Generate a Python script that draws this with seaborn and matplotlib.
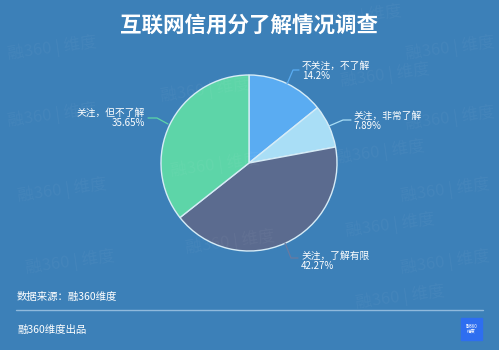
import matplotlib
matplotlib.use("Agg")
import matplotlib.pyplot as plt
import seaborn as sns

# ---- data ----
title = "互联网信用分了解情况调查"
categories = ["不关注，不了解", "关注，非常了解", "关注，了解有限", "关注，但不了解"]
values = [14.2, 7.89, 42.27, 35.65]
value_labels = ["14.2%", "7.89%", "42.27%", "35.65%"]
source_text = "数据来源：融360维度"
footer_text = "融360维度出品"

BG = "#3c80b8"
colors = ["#5aacf2", "#a9def6", "#5b6b8f", "#5dd5a8"]

sns.set_theme(style="white")
plt.rcParams['font.family'] = ['Noto Sans CJK SC', 'DejaVu Sans']

W, H = 499, 350
fig = plt.figure(figsize=(W / 100, H / 100), dpi=100, facecolor=BG)

# pixel helpers
cx, cy, R = 249, 163, 88
half = 110
ax = fig.add_axes([(cx - half) / W, (H - cy - half) / H, 2 * half / W, 2 * half / H])
ax.set_facecolor(BG)
ax.set_xlim(-half / R, half / R)
ax.set_ylim(-half / R, half / R)
ax.set_aspect("equal")
ax.axis("off")

wedges, _ = ax.pie(values, colors=colors, startangle=90, counterclock=False, radius=1,
                   wedgeprops=dict(edgecolor="#d6ecf7", linewidth=1.0))

def d(px, py):
    return ((px - cx) / R, (cy - py) / R)

# leader lines (pixel coordinates) and label anchors
leaders = [
    [(287, 84), (293, 70), (299, 70)],
    [(329, 126), (343, 120), (351, 120)],
    [(285, 243), (291, 258), (298, 258)],
    [(168, 124), (157, 118), (148, 118)],
]
label_pos = [(302, 71, "left"), (354, 121, "left"), (301, 261, "left"), (145, 118, "right")]
line_colors = ["#5aacf2", "#a9def6", "#6a7aa0", "#5dd5a8"]

for pts, lc in zip(leaders, line_colors):
    xs, ys = zip(*[d(*p) for p in pts])
    ax.plot(xs, ys, color=lc, lw=0.9, clip_on=False)

for (px, py, ha), cat, vl in zip(label_pos, categories, value_labels):
    fig.text(px / W, 1 - py / H, f"{cat}\n{vl}", color="white", fontsize=7,
             ha=ha, va="center", linespacing=0.95, multialignment=ha)

# title
fig.text(249 / W, 1 - 25 / H, title, color="white", fontsize=15.5, fontweight="bold",
         ha="center", va="center")

# footer
fig.text(17 / W, 1 - 297 / H, source_text, color="white", fontsize=7.5, ha="left", va="center")
fig.add_artist(plt.Line2D([16 / W, 483 / W], [1 - 310 / H, 1 - 310 / H],
                          color="#8fb9dc", lw=1.0))
fig.text(17 / W, 1 - 330 / H, footer_text, color="white", fontsize=7.5, ha="left", va="center")

# logo
fig.add_artist(plt.Rectangle((461 / W, 1 - 340 / H), 21 / W, 22 / H, color="#2e6ef0",
                             transform=fig.transFigure))
fig.text(471.5 / W, 1 - 329 / H, "融360\n维度", color="white", fontsize=3.2,
         ha="center", va="center", linespacing=1.0)

# watermarks
marks = [(52, 48), (52, 115), (62, 190), (70, 262), (357, 17), (385, 75), (380, 152),
         (390, 225), (400, 297), (450, 48), (450, 118), (445, 190), (445, 262),
         (205, 90), (215, 165), (230, 242)]
for mx, my in marks:
    fig.text(mx / W, 1 - my / H, "融360 | 维度", color="white", alpha=0.045, fontsize=12,
             ha="center", va="center", rotation=8, zorder=10)

fig.savefig("out.png", dpi=100, facecolor=BG)
